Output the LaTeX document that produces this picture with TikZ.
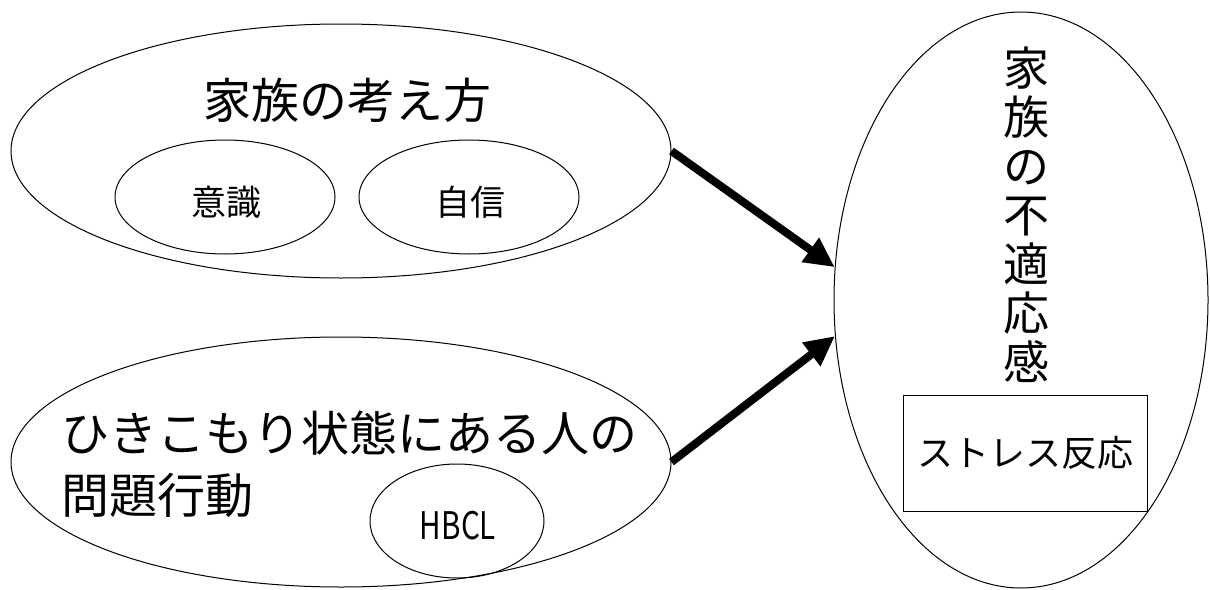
\documentclass[tikz,border=0pt]{standalone}
\usepackage{fontspec}
\setmainfont{Noto Sans CJK JP}
\usetikzlibrary{shapes.geometric, arrows.meta}

\begin{document}
\begin{tikzpicture}[x=0.5pt, y=-0.5pt,
	bubble/.style={ellipse, draw, line width=0.5pt, inner sep=0pt},
	boxed/.style={rectangle, draw, line width=0.5pt, inner sep=0pt},
	big/.style={inner sep=0pt, font=\fontsize{24}{31}\selectfont},
	small/.style={inner sep=0pt, font=\fontsize{17.5}{20}\selectfont},
	flow/.style={line width=4pt, -{Triangle[length=15pt,width=14pt]}},]

\useasboundingbox (0,0) rectangle (1210,589);

% Family's way of thinking
\node[bubble, minimum width=330pt, minimum height=127pt] (view) at (341,151) {};
\node[big] (viewlabel) at (347,100) {家族の考え方};
\node[bubble, minimum width=110pt, minimum height=57pt] (aware) at (225,197) {};
\node[small] (awarelabel) at (226,202) {意識};
\node[bubble, minimum width=110pt, minimum height=57pt] (conf) at (469,197) {};
\node[small] (conflabel) at (470,202) {自信};

% Problem behaviour
\node[bubble, minimum width=330pt, minimum height=125pt] (prob) at (341,462) {};
\node[big, align=left, anchor=west] (problabel) at (61,464) {ひきこもり状態にある人の\\問題行動};
\node[bubble, minimum width=87pt, minimum height=57pt] (hbcl) at (457,521) {};
\node[small, font=\fontsize{19}{20}\selectfont] (hbcllabel) at (458,526) {\scalebox{0.78}[1]{HBCL}};

% Maladjustment
\node[bubble, minimum width=187pt, minimum height=288pt] (feel) at (1021,300) {};
\node[inner sep=0pt, align=center, font=\fontsize{23}{24.5}\selectfont] (feellabel) at (1026,215) {家\\族\\の\\不\\適\\応\\感};
\node[boxed, minimum width=122pt, minimum height=58pt, font=\fontsize{18}{20}\selectfont] (stress) at (1025,453) {ストレス反応};

\draw[flow] (view.east) -- (feel.170);
\draw[flow] (prob.east) -- (feel.191);

\end{tikzpicture}
\end{document}
